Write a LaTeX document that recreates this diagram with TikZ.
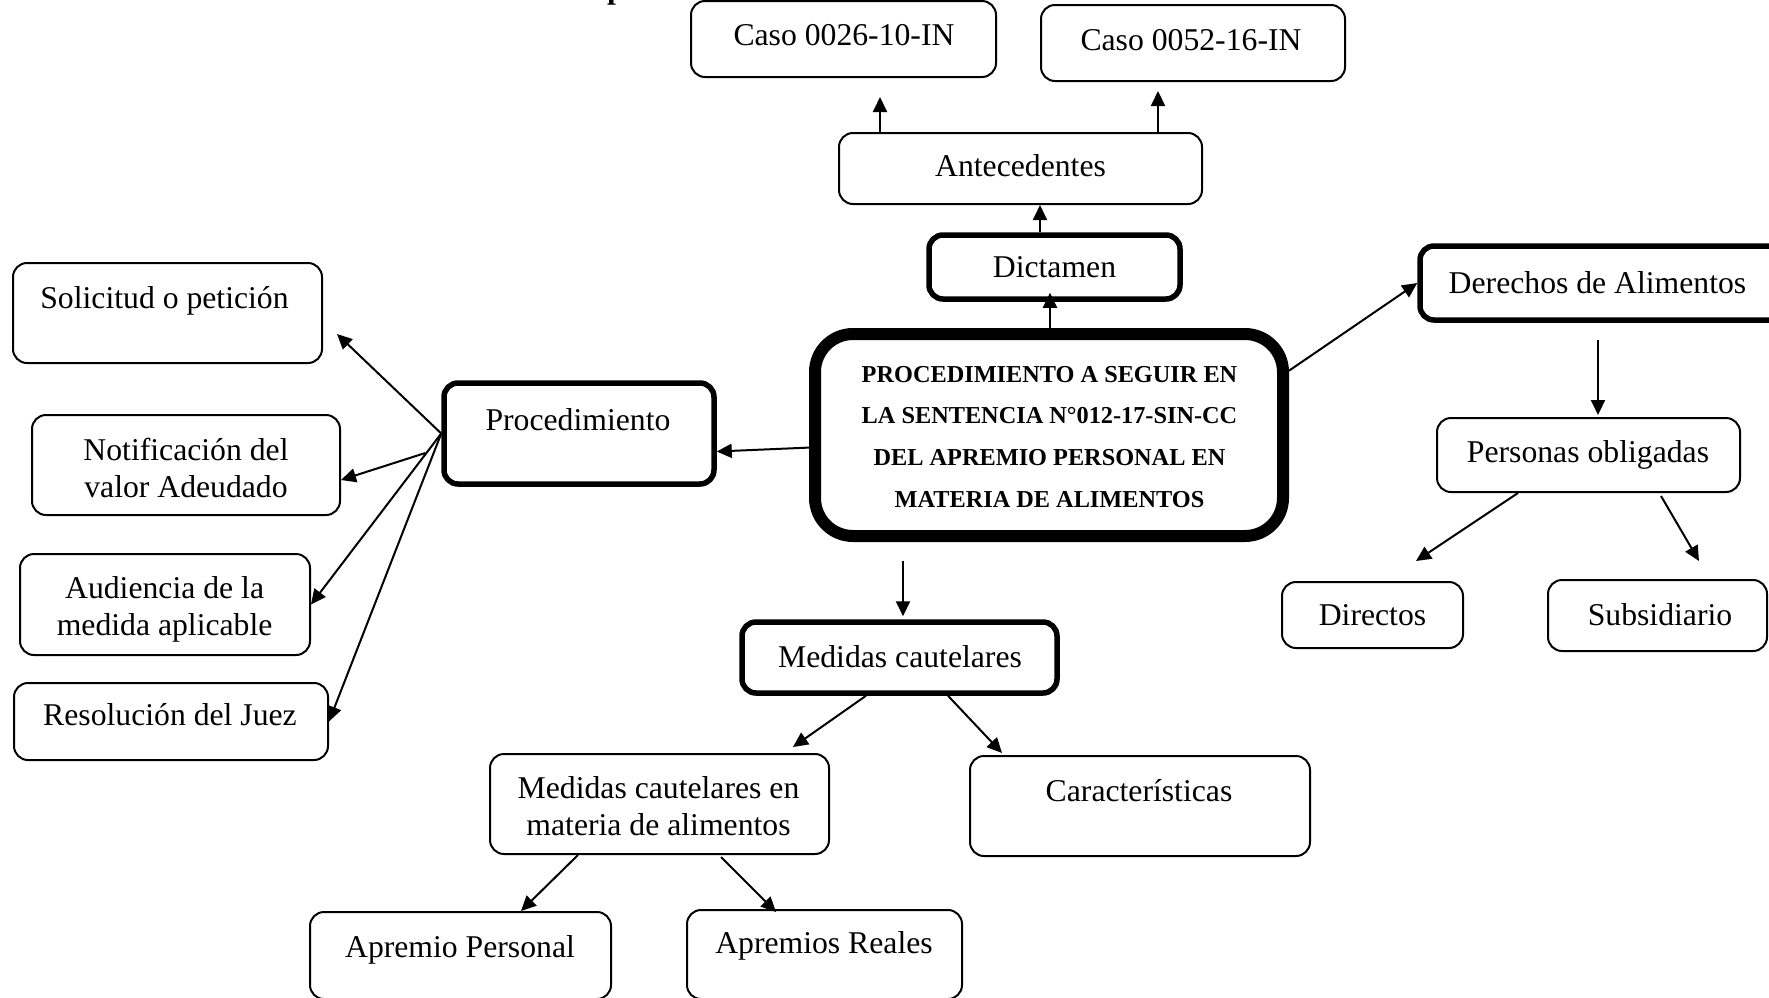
\documentclass[tikz,border=0pt]{standalone}
\usepackage{fontspec}
\setmainfont{Liberation Serif}
\usetikzlibrary{arrows.meta}
\begin{document}
\begin{tikzpicture}[x=1pt,y=-1pt,
  box/.style={draw, line width=2pt, rounded corners=14pt, inner sep=0pt},
  boldbox/.style={box, line width=5.5pt},
  mainbox/.style={box, line width=12pt, rounded corners=38pt},
  lbl/.style={inner sep=0pt, anchor=base, font=\fontsize{31.7}{37}\selectfont},
  mainlbl/.style={inner sep=0pt, anchor=base, font=\bfseries\fontsize{24.3}{41.7}\selectfont},
  arr/.style={line width=2pt, -{Triangle[length=15pt,width=14pt]}},
]
\useasboundingbox (0,0) rectangle (1769,997);

% heading (only its lowest part lies on the page)
\node[inner sep=0pt, anchor=base west, font=\fontsize{31.7}{37}\selectfont\bfseries] (head) at (607,-2) {p};

% boxes
\node[box, minimum width=305pt, minimum height=76pt] (caso1) at (843.5,39) {};
\node[box, minimum width=304pt, minimum height=76pt] (caso2) at (1193,43) {};
\node[box, minimum width=363pt, minimum height=71pt] (ant) at (1020.5,168.5) {};
\node[boldbox, minimum width=251pt, minimum height=64pt] (dict) at (1054.5,267) {};
\node[mainbox, minimum width=468pt, minimum height=202pt] (cen) at (1049,435) {};
\node[boldbox, minimum width=370pt, minimum height=74pt] (der) at (1605,283) {};
\node[box, minimum width=303pt, minimum height=74pt] (per) at (1588.5,455) {};
\node[box, minimum width=181pt, minimum height=66pt] (dir) at (1372.5,615) {};
\node[box, minimum width=219pt, minimum height=71pt] (sub) at (1657.5,615.5) {};
\node[boldbox, minimum width=270pt, minimum height=101pt] (proc) at (579,433.5) {};
\node[box, minimum width=309pt, minimum height=100pt] (sol) at (167.5,313) {};
\node[box, minimum width=308pt, minimum height=100pt] (notif) at (186,465) {};
\node[box, minimum width=290pt, minimum height=101pt] (aud) at (165,604.5) {};
\node[box, minimum width=314pt, minimum height=77pt] (res) at (171,721.5) {};
\node[boldbox, minimum width=315pt, minimum height=71pt] (mc) at (899.5,657.5) {};
\node[box, minimum width=339pt, minimum height=100pt] (mm) at (659.5,804) {};
\node[box, minimum width=340pt, minimum height=100pt] (car) at (1140,806) {};
\node[box, minimum width=301pt, minimum height=87pt] (ap) at (460.5,955.5) {};
\node[box, minimum width=275pt, minimum height=89pt] (ar) at (824.5,954.5) {};

% texts
\node[lbl] (caso1-t) at (844,45) {Caso 0026-10-IN};
\node[lbl] (caso2-t) at (1191,50) {Caso 0052-16-IN};
\node[lbl] (ant-t) at (1020.5,176) {Antecedentes};
\node[lbl] (dict-t) at (1054.5,277) {Dictamen};
\node[mainlbl] (cen-t) at (1049.5,382) {\begin{tabular}[t]{@{}c@{}}PROCEDIMIENTO A SEGUIR EN\\LA SENTENCIA N°012-17-SIN-CC\\DEL APREMIO PERSONAL EN\\MATERIA DE ALIMENTOS\end{tabular}};
\node[lbl] (der-t) at (1597.5,293) {Derechos de Alimentos};
\node[lbl] (per-t) at (1588,462) {Personas obligadas};
\node[lbl] (dir-t) at (1372.5,625) {Directos};
\node[lbl] (sub-t) at (1660,625) {Subsidiario};
\node[lbl] (proc-t) at (578,430) {Procedimiento};
\node[lbl] (sol-t) at (164.5,308) {Solicitud o petición};
\node[lbl] (notif-t) at (186,460) {\begin{tabular}[t]{@{}c@{}}Notificación del\\valor Adeudado\end{tabular}};
\node[lbl] (aud-t) at (164.6,598) {\begin{tabular}[t]{@{}c@{}}Audiencia de la\\medida aplicable\end{tabular}};
\node[lbl] (res-t) at (170,725) {Resolución del Juez};
\node[lbl] (mc-t) at (900,667) {Medidas cautelares};
\node[lbl] (mm-t) at (658.5,798) {\begin{tabular}[t]{@{}c@{}}Medidas cautelares en\\materia de alimentos\end{tabular}};
\node[lbl] (car-t) at (1139,801) {Características};
\node[lbl] (ap-t) at (460,957) {Apremio Personal};
\node[lbl] (ar-t) at (824,953) {Apremios Reales};

% vertical connector positions
\coordinate (xa) at (880,0);
\coordinate (xb) at (1158,0);
\coordinate (xc) at (1040,0);
\coordinate (xd) at (1050,0);
\coordinate (xe) at (1598,0);
\coordinate (xf) at (903,0);

% connectors
\draw[arr, shorten >=19pt] (ant.north -| xa) -- (caso1.south -| xa);
\draw[arr, shorten >=9pt] (ant.north -| xb) -- (caso2.south -| xb);
\draw[arr] (dict.north -| xc) -- (ant.south -| xc);
\draw[arr, shorten >=-9pt] (cen.north -| xd) -- (dict.south -| xd);
\draw[arr] (cen.15) -- (der.west);
\draw[arr] (cen.183.4) -- ([yshift=-18pt]proc.east);
\draw[arr] (proc.west) -- ([xshift=14pt,yshift=-21pt]sol.east);
\draw[arr] ([xshift=-16pt,yshift=-19.5pt]proc.west) -- ([yshift=-15pt]notif.east);
\draw[arr] (proc.west) -- (aud.east);
\draw[arr] (proc.west) -- (res.east);
\draw[arr, shorten <=17pt, shorten >=2pt] (der.south -| xe) -- (per.north -| xe);
\draw[arr] ([xshift=-70.5pt]per.south) -- ([xshift=-48pt,yshift=20pt]dir.north east);
\draw[arr] ([xshift=72.5pt,yshift=-3pt]per.south) -- ([xshift=41.5pt,yshift=18pt]sub.north);
\draw[arr, shorten <=19pt, shorten >=3pt] (cen.south -| xf) -- (mc.north -| xf);
\draw[arr] ([xshift=-33.5pt]mc.south) -- ([xshift=-37pt,yshift=6pt]mm.north east);
\draw[arr] ([xshift=48.5pt]mc.south) -- ([xshift=33pt,yshift=2pt]car.north west);
\draw[arr] ([xshift=-81.5pt]mm.south) -- ([xshift=60.5pt]ap.north);
\draw[arr] ([xshift=61.5pt,yshift=-2pt]mm.south) -- ([xshift=90pt,yshift=-3pt]ar.north west);
\end{tikzpicture}
\end{document}
